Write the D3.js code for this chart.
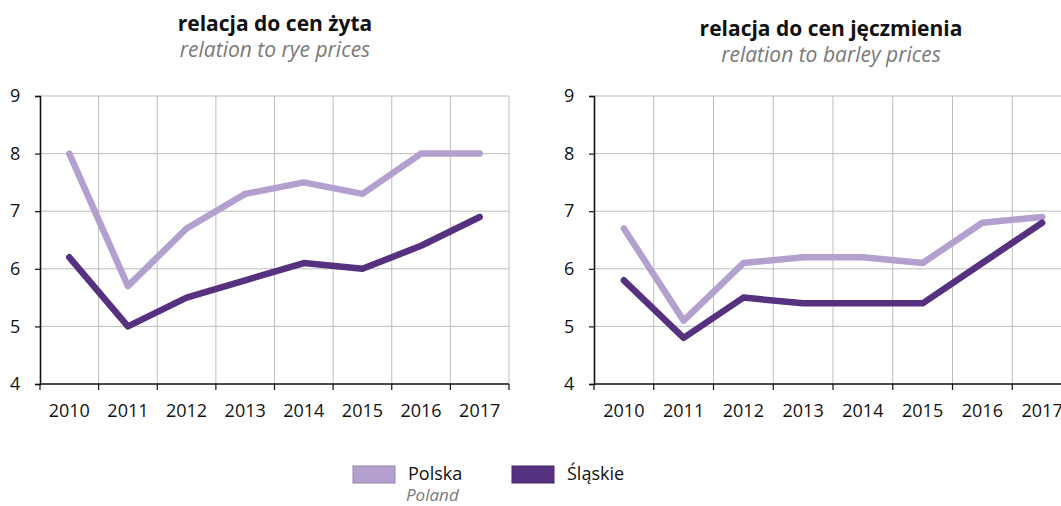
<!DOCTYPE html>
<html>
<head>
<meta charset="utf-8">
<script src="https://cdn.jsdelivr.net/npm/d3@7"></script>
<style>
  html, body { margin: 0; padding: 0; background: #fff; overflow: hidden; }
  svg { display: block; font-family: "Open Sans", "Noto Sans", sans-serif; }
</style>
</head>
<body>
<svg id="chart" width="1061" height="506"></svg>
<script>
// Years on the x axis
const years = ["2010", "2011", "2012", "2013", "2014", "2015", "2016", "2017"];
const yTicks = [4, 5, 6, 7, 8, 9];

// Relation to rye prices
const ryePolska   = [8.0, 5.7, 6.7, 7.3, 7.5, 7.3, 8.0, 8.0];
const ryeSlaskie  = [6.2, 5.0, 5.5, 5.8, 6.1, 6.0, 6.4, 6.9];

// Relation to barley prices
const barleyPolska  = [6.7, 5.1, 6.1, 6.2, 6.2, 6.1, 6.8, 6.9];
const barleySlaskie = [5.8, 4.8, 5.5, 5.4, 5.4, 5.4, 6.1, 6.8];

const colorPolska = "#b3a0cf";
const colorSlaskie = "#55317f";

const svg = d3.select("#chart");

const panels = [
  { title: "relacja do cen żyta", subtitle: "relation to rye prices",
    x0: 40, x1: 509, titleX: 275, titleY: 31, subY: 57,
    polska: ryePolska, slaskie: ryeSlaskie, labelX: 10 },
  { title: "relacja do cen jęczmienia", subtitle: "relation to barley prices",
    x0: 594, x1: 1072, titleX: 831, titleY: 36, subY: 62,
    polska: barleyPolska, slaskie: barleySlaskie, labelX: 564 }
];

const yTop = 96, yBottom = 384;

panels.forEach(p => {
  const g = svg.append("g");
  const x = d3.scaleBand().domain(years).range([p.x0, p.x1]);
  const y = d3.scaleLinear().domain([4, 9]).range([yBottom, yTop]);

  // horizontal grid
  g.selectAll(".hgrid").data(yTicks.slice(1)).join("line")
    .attr("x1", p.x0).attr("x2", p.x1)
    .attr("y1", d => y(d)).attr("y2", d => y(d))
    .attr("stroke", "#bdbdbd").attr("stroke-width", 1);

  // vertical grid at band boundaries
  const bounds = years.map(d => x(d) + x.bandwidth());
  g.selectAll(".vgrid").data(bounds).join("line")
    .attr("x1", d => d).attr("x2", d => d)
    .attr("y1", yTop).attr("y2", yBottom)
    .attr("stroke", "#bdbdbd").attr("stroke-width", 1);

  // y axis
  const yAxis = g.append("g").attr("transform", `translate(${p.x0},0)`)
    .call(d3.axisLeft(y).tickValues(yTicks).tickSize(5).tickPadding(6).tickFormat(d3.format("d")));
  yAxis.select(".domain").attr("stroke", "#111").attr("stroke-width", 1.6);
  yAxis.selectAll(".tick line").attr("stroke", "#111").attr("stroke-width", 1.2);
  yAxis.selectAll(".tick text").attr("x", null).attr("text-anchor", "start")
    .attr("transform", `translate(${p.labelX - p.x0},0)`)
    .attr("font-size", 18).attr("fill", "#111")
    .style("font-family", "'Open Sans', 'Noto Sans', sans-serif");

  // x axis with ticks at band edges
  const xAxisG = g.append("g").attr("transform", `translate(0,${yBottom})`);
  xAxisG.append("line").attr("x1", p.x0).attr("x2", p.x1)
    .attr("stroke", "#111").attr("stroke-width", 1.6);
  xAxisG.selectAll(".xt").data([p.x0].concat(bounds)).join("line")
    .attr("x1", d => d).attr("x2", d => d).attr("y1", 0).attr("y2", 6)
    .attr("stroke", "#111").attr("stroke-width", 1.2);
  xAxisG.selectAll(".xl").data(years).join("text")
    .attr("x", d => x(d) + x.bandwidth() / 2)
    .attr("y", 33)
    .attr("text-anchor", "middle")
    .attr("font-size", 18).attr("fill", "#111")
    .text(d => d);

  // lines
  const line = d3.line()
    .x((d, i) => x(years[i]) + x.bandwidth() / 2)
    .y(d => y(d));
  [[p.polska, colorPolska], [p.slaskie, colorSlaskie]].forEach(([vals, c]) => {
    g.append("path").datum(vals)
      .attr("d", line)
      .attr("fill", "none")
      .attr("stroke", c)
      .attr("stroke-width", 6.5)
      .attr("stroke-linejoin", "round")
      .attr("stroke-linecap", "round");
  });

  // titles
  g.append("text").attr("x", p.titleX).attr("y", p.titleY)
    .attr("text-anchor", "middle").attr("font-size", 21).attr("font-weight", "bold")
    .attr("fill", "#111").text(p.title);
  g.append("text").attr("x", p.titleX).attr("y", p.subY)
    .attr("text-anchor", "middle").attr("font-size", 21).attr("font-style", "italic")
    .attr("fill", "#7a7a7a").text(p.subtitle);
});

// legend
const legend = svg.append("g");
const legendItems = [
  { label: "Polska", sub: "Poland", color: colorPolska, sx: 353, tx: 408 },
  { label: "Śląskie", sub: null, color: colorSlaskie, sx: 512, tx: 567 }
];
legendItems.forEach(it => {
  legend.append("rect").attr("x", it.sx).attr("y", 466).attr("width", 42).attr("height", 17)
    .attr("fill", it.color).attr("stroke", d3.color(it.color).darker(0.6)).attr("stroke-width", 1);
  legend.append("text").attr("x", it.tx).attr("y", 480).attr("font-size", 18)
    .attr("fill", "#111").text(it.label);
  if (it.sub) {
    legend.append("text").attr("x", it.tx - 2).attr("y", 501).attr("font-size", 17)
      .attr("font-style", "italic").attr("fill", "#7a7a7a").text(it.sub);
  }
});
</script>
</body>
</html>
